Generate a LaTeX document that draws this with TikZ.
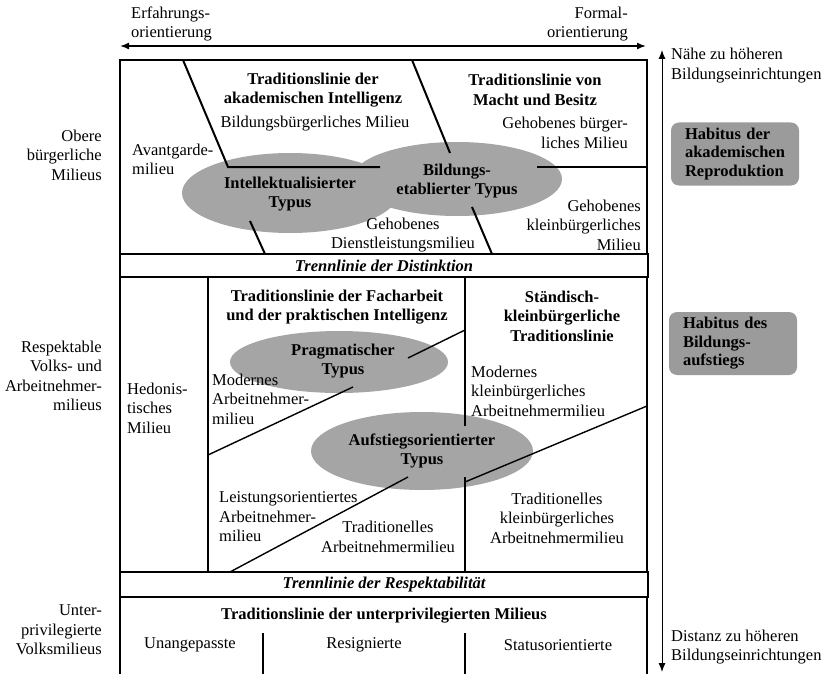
\documentclass[tikz,border=0pt]{standalone}
\usepackage{fontspec}
\setmainfont{Liberation Serif}
\usetikzlibrary{shapes.geometric,arrows.meta}
\definecolor{ellgray}{RGB}{165,165,165}
\definecolor{boxgray}{RGB}{155,155,155}
\begin{document}
\begin{tikzpicture}[x=1pt,y=-1pt,
  fnt/.style={font=\fontsize{16.5}{19.5}\selectfont},
  fntb/.style={font=\fontsize{16.5}{19.5}\selectfont\bfseries},
  lbl/.style={fnt, inner sep=0pt, align=center},
  lbll/.style={fnt, inner sep=0pt, align=left},
  lblr/.style={fnt, inner sep=0pt, align=right},
  hdr/.style={fntb, inner sep=0pt, align=center},
  typ/.style={ellipse, fill=ellgray, inner sep=0pt},
  hab/.style={rounded corners=8pt, fill=boxgray, minimum width=128pt, minimum height=63pt, text width=100pt, align=left, inner sep=0pt, font=\fontsize{16.5}{18.5}\selectfont\bfseries},
  frame/.style={line width=2pt},
  sep/.style={line width=2pt},
  thinsep/.style={line width=1.4pt},
  trenn/.style={draw, line width=2.4pt, fill=white, minimum width=528pt, inner sep=0pt, font=\fontsize{16.5}{19.5}\selectfont\bfseries\itshape},
  axis/.style={{Latex[length=9pt,width=7pt]}-{Latex[length=9pt,width=7pt]}},
]
\useasboundingbox[fill=white] (0,0) rectangle (829,674);

% outer frame
\draw[frame] (120,674) -- (120,60) -- (647,60) -- (647,674);

% type ellipses (shapes first, texts later)
\node[typ, minimum width=216pt, minimum height=80pt] (intel) at (290,193) {};
\node[typ, minimum width=210pt, minimum height=74pt] (bild) at (457,179) {};
\node[typ, minimum width=218pt, minimum height=62pt] (prag) at (339,362) {};
\node[typ, minimum width=222pt, minimum height=78pt] (aufst) at (422,451) {};

% top section dividing lines
\draw[sep] (183,60) -- (228,167) -- (380,167);
\draw[sep] (537,167) -- (647,167);
\draw[sep] (250,221) -- (265,254);
\draw[sep] (412,60) -- (450,153);
\draw[sep] (472,207) -- (492,254);

% middle section dividing lines
\draw[sep] (208,277) -- (208,572);
\draw[sep] (465,277) -- (465,426);
\draw[sep] (465,477) -- (465,572);
\draw[thinsep] (408,358) -- (465,330);
\draw[thinsep] (353,387) -- (208,455);
\draw[thinsep] (408,477) -- (230,572);
\draw[thinsep] (465,482) -- (647,406);

% lower section dividing lines
\draw[line width=1.3pt] (263,633) -- (263,674);
\draw[line width=1.3pt] (465,633) -- (465,674);

% separating bars
\node[trenn, minimum height=23pt] (distinktion) at (384,265.5) {Trennlinie der Distinktion};
\node[trenn, minimum height=25pt] (respekt) at (384,584.5) {Trennlinie der Respektabilität};

% type labels
\node[hdr] (intelT) at ([yshift=-1pt]intel.center) {Intellektualisierter\\Typus};
\node[hdr] (bildT) at ([yshift=-2pt]bild.center) {Bildungs-\\etablierter Typus};
\node[hdr] (pragT) at ([xshift=4pt,yshift=1pt]prag.center) {Pragmatischer\\Typus};
\node[hdr] (aufstT) at (aufst.center) {Aufstiegsorientierter\\Typus};

% axes
\coordinate (axL) at (120,46);
\coordinate (axR) at (646,46);
\coordinate (axT) at (662,50);
\coordinate (axB) at (662,672);
\draw[axis, line width=1.5pt] (axL) -- (axR);
\draw[axis, line width=1pt] (axT) -- (axB);

% axis labels
\node[lbll, anchor=west] (erf) at (131,24) {Erfahrungs-\\orientierung};
\node[lblr, anchor=east] (formal) at (628,24) {Formal-\\orientierung};
\node[lbll, anchor=west] (naehe) at (671,65.5) {Nähe zu höheren\\Bildungseinrichtungen};
\node[lbll, anchor=west] (distanz) at (671,647) {Distanz zu höheren\\Bildungseinrichtungen};

% left labels
\node[lblr, anchor=east] (obere) at (102,155) {Obere\\bürgerliche\\Milieus};
\node[lblr, anchor=east] (respektable) at (102,376) {Respektable\\Volks- und\\Arbeitnehmer-\\milieus};
\node[lblr, anchor=east] (unter) at (102,630) {Unter-\\privilegierte\\Volksmilieus};

% habitus boxes
\node[hab] (hab1) at (735,154) {Habitus der\\akademischen\\Reproduktion};
\node[hab] (hab2) at (733,343.5) {Habitus des\\Bildungs-\\aufstiegs};

% top section texts
\node[hdr] (tlak) at (313,90) {Traditionslinie der\\akademischen Intelligenz};
\node[lbl] (bbm) at (315,124) {Bildungsbürgerliches Milieu};
\node[hdr] (tlmb) at (535,90) {Traditionslinie von\\Macht und Besitz};
\node[lblr, anchor=east] (gbm) at (628,133) {Gehobenes bürger-\\liches Milieu};
\node[lbll, anchor=west] (avant) at (132,159.5) {Avantgarde-\\milieu};
\node[lbl] (gdm) at (403,235) {Gehobenes\\Dienstleistungsmilieu};
\node[lblr, anchor=east] (gkm) at (641,225) {Gehobenes\\kleinbürgerliches\\Milieu};

% middle section texts
\node[hdr] (tlfa) at (337,307) {Traditionslinie der Facharbeit\\und der praktischen Intelligenz};
\node[hdr] (tlsk) at (562,316) {Ständisch-\\kleinbürgerliche\\Traditionslinie};
\node[lbll, anchor=west] (hedon) at (127,408) {Hedonis-\\tisches\\Milieu};
\node[lbll, anchor=west] (mam) at (212,399) {Modernes\\Arbeitnehmer-\\milieu};
\node[lbll, anchor=west] (mkam) at (471,391) {Modernes\\kleinbürgerliches\\Arbeitnehmermilieu};
\node[lbll, anchor=west] (loam) at (219,517) {Leistungsorientiertes\\Arbeitnehmer-\\milieu};
\node[lbl] (tam) at (388,537) {Traditionelles\\Arbeitnehmermilieu};
\node[lbl] (tkam) at (557,518) {Traditionelles\\kleinbürgerliches\\Arbeitnehmermilieu};

% lower section texts
\node[hdr] (tlum) at (384,616) {Traditionslinie der unterprivilegierten Milieus};
\node[lbl] (unang) at (190,645) {Unangepasste};
\node[lbl] (resig) at (364,645) {Resignierte};
\node[lbl] (status) at (558,645) {Statusorientierte};
\end{tikzpicture}
\end{document}
